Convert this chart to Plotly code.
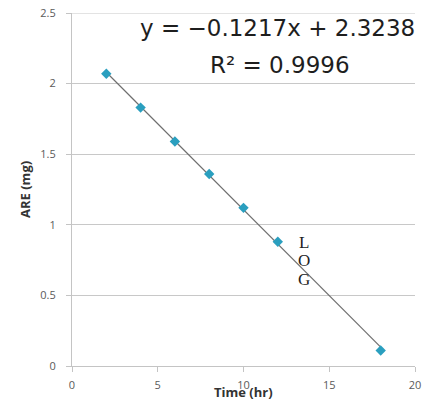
import plotly.graph_objects as go

time_hr = [2, 4, 6, 8, 10, 12, 18]
are_mg = [2.07, 1.83, 1.59, 1.36, 1.12, 0.88, 0.11]
slope = -0.1217
intercept = 2.3238
trend_x = [2, 18]
trend_y = [slope * x + intercept for x in trend_x]
x_ticks = [0, 5, 10, 15, 20]
y_ticks = [0, 0.5, 1, 1.5, 2, 2.5]
y_tick_text = ["0", "0.5", "1", "1.5", "2", "2.5"]

W, H = 429, 403
OFF = 0  # body margin removed via post_script
# plot area in screenshot pixels
SL, SR, ST, SB = 72, 415, 13, 366
ml, mr, mt, mb = SL - OFF, W - (SR - OFF), ST - OFF, H - (SB - OFF)

fig = go.Figure()
fig.add_trace(go.Scatter(x=trend_x, y=trend_y, mode="lines",
                         line=dict(color="#6e6e6e", width=1.2), showlegend=False))
fig.add_trace(go.Scatter(x=time_hr, y=are_mg, mode="markers",
                         marker=dict(symbol="diamond", size=8, color="#2a9fbf"),
                         showlegend=False))

tickfont = dict(family="Open Sans, sans-serif", size=11, color="#5a5a5a")
fig.update_xaxes(range=[0, 20], tickvals=x_ticks, ticktext=[str(v) for v in x_ticks],
                 showgrid=False, zeroline=False, showline=True, linecolor="#c4c4c4",
                 linewidth=1, ticks="outside", ticklen=5, tickcolor="#c4c4c4",
                 tickfont=tickfont, automargin=False, ticklabelstandoff=4,
                 ticklabeloverflow="allow")
fig.update_yaxes(range=[0, 2.5], tickvals=y_ticks, ticktext=y_tick_text,
                 showgrid=True, gridcolor="#c8c8c8", gridwidth=1, zeroline=False,
                 showline=True, linecolor="#c4c4c4", linewidth=1, ticks="outside",
                 ticklen=5, tickcolor="#c4c4c4", tickfont=tickfont, automargin=False,
                 ticklabelstandoff=8, ticklabeloverflow="allow")
# top gridline (plotly skips gridlines at the plot edge)
fig.add_shape(type="line", xref="paper", yref="y", x0=0, x1=1,
              y0=y_ticks[-1], y1=y_ticks[-1], line=dict(color="#c8c8c8", width=1),
              layer="below")

pw, ph = W - ml - mr, H - mt - mb


def to_paper(sx, sy):
    fx, fy = sx - OFF, sy - OFF
    return (fx - ml) / pw, 1 - (fy - mt) / ph


eq_font = dict(family="DejaVu Sans, sans-serif", size=23, color="#1e1e1e")
serif = dict(family="Liberation Serif, serif", size=17, color="#1e1e1e")
title_font = dict(family="Open Sans, sans-serif", size=13, color="#333333")
texts = [
    ("y = −0.1217x + 2.3238", 277, 28, eq_font, 0),
    ("R² = 0.9996", 280, 65, eq_font, 0),
    ("<b>Time (hr)</b>", 243, 392, title_font, 0),
    ("<b>ARE (mg)</b>", 25, 190, title_font, -90),
    ("L", 304, 242, serif, 0),
    ("O", 304, 260, serif, 0),
    ("G", 304, 279, serif, 0),
]
for text, sx, sy, font, ang in texts:
    px, py = to_paper(sx, sy)
    fig.add_annotation(x=px, y=py, xref="paper", yref="paper", text=text,
                       showarrow=False, font=font, textangle=ang,
                       xanchor="center", yanchor="middle")

fig.update_layout(width=W, height=H, margin=dict(l=ml, r=mr, t=mt, b=mb),
                  plot_bgcolor="white", paper_bgcolor="white")

fig.write_html("out.html", config={"displayModeBar": False},
               post_script="document.body.style.margin='0px';")
